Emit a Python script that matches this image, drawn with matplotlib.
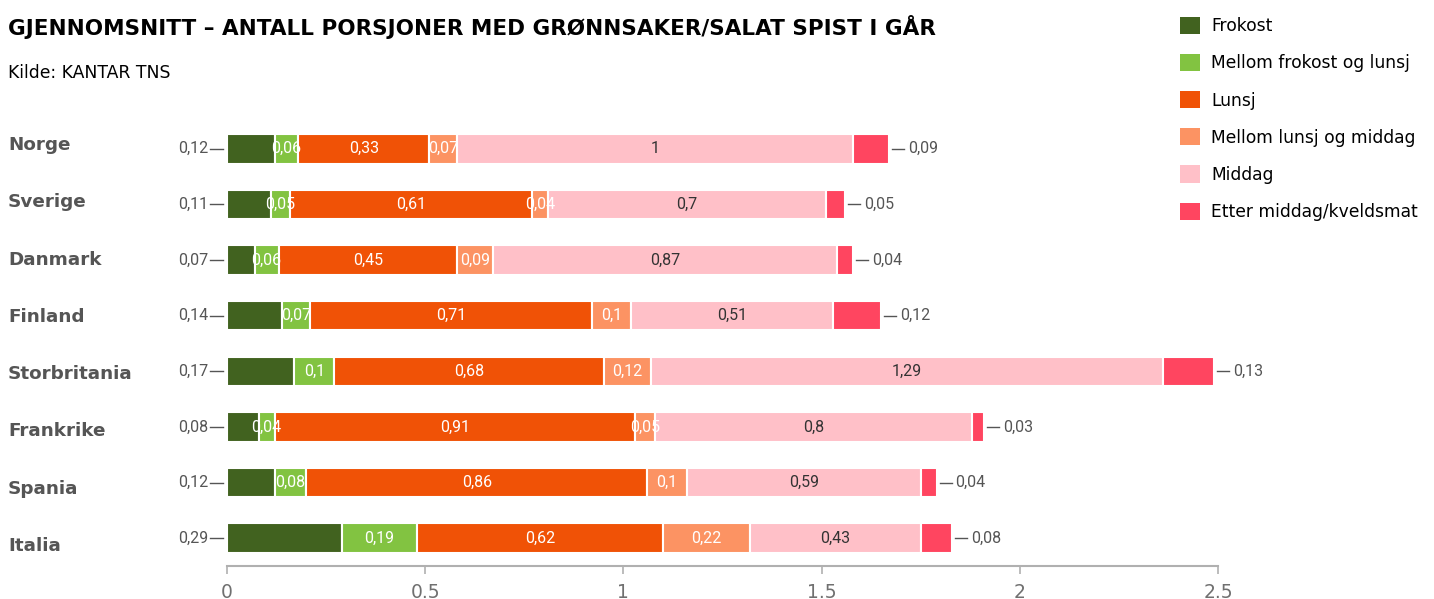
import matplotlib.pyplot as plt
from matplotlib.patches import Patch

countries = ["Norge", "Sverige", "Danmark", "Finland", "Storbritania",
             "Frankrike", "Spania", "Italia"]
series = ["Frokost", "Mellom frokost og lunsj", "Lunsj",
          "Mellom lunsj og middag", "Middag", "Etter middag/kveldsmat"]
frokost = [0.12, 0.11, 0.07, 0.14, 0.17, 0.08, 0.12, 0.29]
mellom_frokost_lunsj = [0.06, 0.05, 0.06, 0.07, 0.10, 0.04, 0.08, 0.19]
lunsj = [0.33, 0.61, 0.45, 0.71, 0.68, 0.91, 0.86, 0.62]
mellom_lunsj_middag = [0.07, 0.04, 0.09, 0.10, 0.12, 0.05, 0.10, 0.22]
middag = [1.00, 0.70, 0.87, 0.51, 1.29, 0.80, 0.59, 0.43]
etter_middag = [0.09, 0.05, 0.04, 0.12, 0.13, 0.03, 0.04, 0.08]
tick_values = [0, 0.5, 1, 1.5, 2, 2.5]
tick_labels = ["0", "0.5", "1", "1.5", "2", "2.5"]

values = [frokost, mellom_frokost_lunsj, lunsj, mellom_lunsj_middag, middag, etter_middag]
colors = ["#41621f", "#82c341", "#f05206", "#fc9363", "#ffc0c8", "#ff4560"]
text_colors = ["white", "white", "white", "white", "#333333", "white"]

W, H = 1434, 599
fig = plt.figure(figsize=(W / 100, H / 100), dpi=100)
ax = fig.add_axes([227 / W, 1 - 566 / H, 991 / W, 445 / H])

def fmt(v):
    s = f"{v:.2f}".rstrip("0").rstrip(".")
    return s.replace(".", ",")

ypos = list(range(len(countries)))
left = [0.0] * len(countries)
for k, vals in enumerate(values):
    ax.barh(ypos, vals, left=left, height=0.53, color=colors[k],
            edgecolor="white", linewidth=1.5)
    if 0 < k < len(values) - 1:
        for i, v in enumerate(vals):
            ax.text(left[i] + v / 2, i, fmt(v), ha="center", va="center",
                    color=text_colors[k], fontsize=11.5, family="Roboto")
    left = [l + v for l, v in zip(left, vals)]

ax.set_xlim(0, 2.5)
ax.set_ylim(7.5, -0.5)

# data units per pixel
dpp = 2.5 / 991

# outside labels: first segment on the left, last segment on the right
for i in ypos:
    ax.plot([-17 * dpp, -4 * dpp], [i, i], color="#555555", lw=1, clip_on=False)
    ax.text(-19 * dpp, i, fmt(frokost[i]), ha="right", va="center",
            color="#555555", fontsize=11.5, family="Roboto")
    end = left[i]
    ax.plot([end + 3 * dpp, end + 15 * dpp], [i, i], color="#555555", lw=1, clip_on=False)
    ax.text(end + 19 * dpp, i, fmt(etter_middag[i]), ha="left", va="center",
            color="#555555", fontsize=11.5, family="Roboto")

for s in ["top", "right", "left"]:
    ax.spines[s].set_visible(False)
ax.spines["bottom"].set_color("#b0b0b0")
ax.spines["bottom"].set_linewidth(1.5)
ax.set_yticks([])
ax.set_xticks(tick_values)
ax.set_xticklabels(tick_labels)
ax.tick_params(axis="x", colors="#b0b0b0", labelcolor="#707070", labelsize=13.5,
               length=6, width=1.2, pad=6)

# country names
for i, c in enumerate(countries):
    fig.text(8 / W, 1 - (145 + i * 57.3) / H, c, ha="left", va="center",
             fontsize=13.2, fontweight="bold", color="#555555")

fig.text(8 / W, 1 - 27 / H, "GJENNOMSNITT – ANTALL PORSJONER MED GRØNNSAKER/SALAT SPIST I GÅR",
         ha="left", va="center", fontsize=15.5, fontweight="bold", color="black")
fig.text(8 / W, 1 - 73 / H, "Kilde: KANTAR TNS", ha="left", va="center",
         fontsize=12.4, color="black")

handles = [Patch(facecolor=c, edgecolor="none") for c in colors]
fig.legend(handles, series, loc="upper left", bbox_to_anchor=(1173 / W, 1 - 10 / H),
           frameon=False, fontsize=12.3, handlelength=1.17, handleheight=1.17,
           handletextpad=0.68, labelspacing=1.1, borderaxespad=0)

fig.savefig("out.png", dpi=100)
